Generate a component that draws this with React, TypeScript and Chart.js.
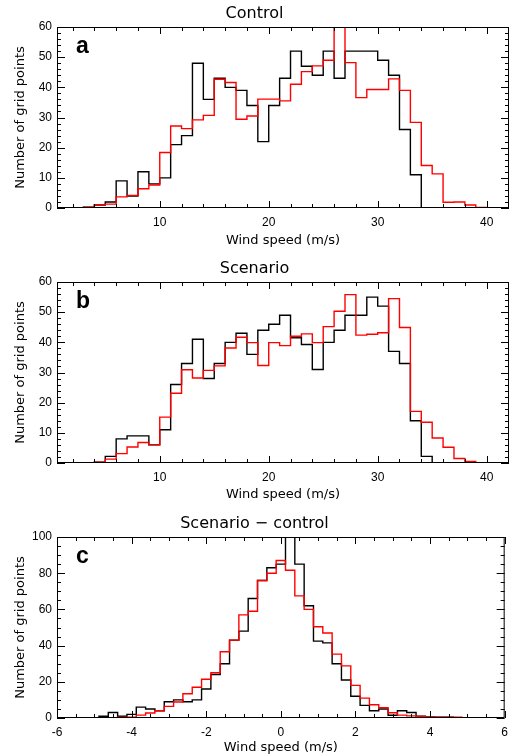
import React, { useEffect, useRef } from "react";
import { Chart, registerables } from "chart.js";

Chart.register(...registerables);

// ---------- Data ----------
// Bin edges for panels a and b (wind speed, m/s); values are per bin [edge_i, edge_i+1]
const windEdges = [
  0, 1, 2, 3, 4, 5, 6, 7, 8, 9, 10, 11, 12, 13, 14, 15, 16, 17, 18, 19, 20, 21,
  22, 23, 24, 25, 26, 27, 28, 29, 30, 31, 32, 33, 34, 35, 36, 37, 38, 39, 40, 41, 42,
];

const controlBlack = [
  0, 0, 0, 0.3, 1, 2, 9, 4, 12, 8, 10, 21, 24, 48, 36, 43, 40, 39, 34, 22, 34, 43,
  52, 47, 44, 52, 43, 52, 52, 52, 49, 44, 26, 11, 0, 0, 0, 0, 0, 0, 0, 0,
];
const controlRed = [
  0, 0, 0, 0.3, 1, 1.3, 3.7, 4.2, 6.4, 7.6, 18.4, 27.2, 26.3, 29.2, 30.7, 42.7, 41.6,
  29.4, 30.5, 36.1, 36.1, 35.5, 41, 45.2, 47.1, 49, 65, 48.2, 36.6, 39.3, 39.3, 42.8,
  39, 28.4, 14.1, 11.3, 1.9, 2, 1, 0.2, 0, 0,
];

const scenarioBlack = [
  0, 0, 0, 0, 0.3, 2.2, 8, 9, 9, 6, 11, 26, 33, 41, 28, 33, 40, 43, 36, 44, 46, 49,
  41.5, 39.3, 31, 40, 44, 49, 49, 55, 52, 37, 33, 14, 2.2, 0, 0, 0, 0, 0, 0, 0,
];
const scenarioRed = [
  0, 0, 0, 0, 0.3, 1.3, 3.1, 5.3, 6.8, 6, 15.2, 23.1, 30.9, 28.2, 30.7, 32.2, 38.1,
  41.7, 39.9, 32.3, 39.9, 38.9, 42, 42.8, 39.9, 45.2, 50.3, 55.8, 42.4, 42.7, 43.2,
  54.5, 44.9, 17.1, 13.5, 8.3, 5.2, 1.5, 0.5, 0, 0, 0,
];

// Bin edges for panel c (difference, m/s), bin width 0.25
const diffEdges = [
  -5.125, -4.875, -4.625, -4.375, -4.125, -3.875, -3.625, -3.375, -3.125, -2.875,
  -2.625, -2.375, -2.125, -1.875, -1.625, -1.375, -1.125, -0.875, -0.625, -0.375,
  -0.125, 0.125, 0.375, 0.625, 0.875, 1.125, 1.375, 1.625, 1.875, 2.125, 2.375,
  2.625, 2.875, 3.125, 3.375, 3.625, 3.875, 4.125, 4.375, 4.625, 4.875,
];
const diffBlack = [
  0, 1, 3, 1, 2, 6, 5, 4, 9, 10, 9, 10, 16, 24, 30, 43, 48, 66, 76, 83, 85, 110, 85,
  62, 42.5, 41.5, 30, 21, 12, 7, 4, 5, 1.5, 4, 3, 1, 0.6, 0.4, 0.4, 0,
];
const diffRed = [
  0, 0, 0, 0.5, 0.5, 1.6, 2.8, 4, 6.4, 8.8, 13.4, 17, 21.4, 25, 36.6, 43, 57, 59, 76,
  80, 87, 81.6, 67.5, 60, 50.4, 47, 35.3, 28.8, 18, 11, 7.3, 5.7, 2.9, 1.6, 1.2, 0.8,
  0.6, 0.5, 0.5, 0.5,
];

const windTicks = [10, 20, 30, 40];
const diffTicks = [-6, -4, -2, 0, 2, 4, 6];

// ---------- Panels ----------
type Panel = {
  title: string;
  letter: string;
  top: number;
  height: number;
  plotTop: number;
  plotBottom: number;
  xMin: number;
  xMax: number;
  xTicks: number[];
  xMinor: number;
  yMax: number;
  yStep: number;
  yMinor: number;
  edges: number[];
  black: number[];
  red: number[];
  xTitlePad: number;
};

const panels: Panel[] = [
  {
    title: "Control", letter: "a", top: 0, height: 252, plotTop: 27, plotBottom: 208,
    xMin: 0.57, xMax: 42.05, xTicks: windTicks, xMinor: 2, yMax: 60, yStep: 10, yMinor: 2,
    edges: windEdges, black: controlBlack, red: controlRed, xTitlePad: 4,
  },
  {
    title: "Scenario", letter: "b", top: 252, height: 252, plotTop: 30, plotBottom: 211,
    xMin: 0.57, xMax: 42.05, xTicks: windTicks, xMinor: 2, yMax: 60, yStep: 10, yMinor: 2,
    edges: windEdges, black: scenarioBlack, red: scenarioRed, xTitlePad: 2,
  },
  {
    title: "Scenario \u2212 control", letter: "c", top: 504, height: 252, plotTop: 33, plotBottom: 214,
    xMin: -6, xMax: 6, xTicks: diffTicks, xMinor: 0.5, yMax: 100, yStep: 20, yMinor: 5,
    edges: diffEdges, black: diffBlack, red: diffRed, xTitlePad: 0.5,
  },
];

const TITLE_FONT = 16;

const framePlugin = {
  id: "idlFrame",
  afterDatasetsDraw(chart: any, _args: any, opts: any) {
    const { ctx, chartArea } = chart;
    const { left, right, top, bottom } = chartArea;
    const xs = chart.scales.x;
    const ys = chart.scales.y;
    ctx.save();
    ctx.strokeStyle = "#000";
    ctx.lineWidth = 1;
    ctx.strokeRect(left + 0.5, top + 0.5, right - left - 1, bottom - top - 1);
    const majLen = 7;
    const minLen = 4;
    ctx.beginPath();
    // x ticks
    const xStart = Math.ceil(xs.min / opts.xMinor - 1e-9) * opts.xMinor;
    for (let v = xStart; v <= xs.max + 1e-9; v += opts.xMinor) {
      const isMajor = opts.xTicks.some((t: number) => Math.abs(t - v) < 1e-6);
      const len = isMajor ? majLen : minLen;
      const px = Math.round(xs.getPixelForValue(v)) + 0.5;
      ctx.moveTo(px, bottom);
      ctx.lineTo(px, bottom - len);
      ctx.moveTo(px, top);
      ctx.lineTo(px, top + len);
    }
    // y ticks
    for (let v = 0; v <= ys.max + 1e-9; v += opts.yMinor) {
      const isMajor = Math.abs(v / opts.yStep - Math.round(v / opts.yStep)) < 1e-6;
      const len = isMajor ? majLen + 1 : minLen;
      const py = Math.round(ys.getPixelForValue(v)) + 0.5;
      ctx.moveTo(left, py);
      ctx.lineTo(left + len, py);
      ctx.moveTo(right, py);
      ctx.lineTo(right - len, py);
    }
    ctx.stroke();
    // panel letter
    ctx.fillStyle = "#000";
    ctx.font = 'bold 23px "Liberation Sans", Arial, sans-serif';
    ctx.textBaseline = "alphabetic";
    ctx.textAlign = "left";
    ctx.fillText(opts.letter, left + 19, top + 26.3);
    ctx.restore();
  },
};

function toPoints(edges: number[], vals: number[]) {
  return edges.map((e, i) => ({ x: e, y: vals[Math.min(i, vals.length - 1)] }));
}

function PanelChart({ p }: { p: Panel }) {
  const ref = useRef<HTMLCanvasElement | null>(null);
  useEffect(() => {
    if (!ref.current) return;
    const titlePadTop = p.plotTop - 3.4 - TITLE_FONT * 1.2;
    const chart = new Chart(ref.current, {
      type: "line",
      data: {
        datasets: [
          {
            label: "red",
            data: toPoints(p.edges, p.red),
            borderColor: "#ff0000",
            borderWidth: 1.4,
            stepped: "before",
            pointRadius: 0,
            fill: false,
            order: 0,
          },
          {
            label: "black",
            data: toPoints(p.edges, p.black),
            borderColor: "#000000",
            borderWidth: 1.4,
            stepped: "before",
            pointRadius: 0,
            fill: false,
            order: 1,
          },
        ],
      },
      options: {
        animation: false,
        responsive: false,
        events: [],
        parsing: false,
        layout: { padding: { left: 0, right: 6, top: 0, bottom: 0 } },
        plugins: {
          legend: { display: false },
          tooltip: { enabled: false },
          title: {
            display: true,
            text: p.title,
            color: "#000",
            font: { family: '"DejaVu Sans", sans-serif', size: TITLE_FONT, weight: "normal" },
            padding: { top: titlePadTop, bottom: 3.4 },
          },
          idlFrame: {
            letter: p.letter,
            xTicks: p.xTicks,
            xMinor: p.xMinor,
            yStep: p.yStep,
            yMinor: p.yMinor,
          },
        } as any,
        scales: {
          x: {
            type: "linear",
            min: p.xMin,
            max: p.xMax,
            grid: { display: false, drawTicks: false },
            border: { display: false },
            afterBuildTicks: (s: any) => {
              s.ticks = p.xTicks.map((v) => ({ value: v }));
            },
            afterFit: (s: any) => {
              s.height = p.height - p.plotBottom;
            },
            ticks: {
              color: "#000",
              font: { family: '"Liberation Sans", Arial, sans-serif', size: 12 },
              padding: 7,
              maxRotation: 0,
              autoSkip: false,
            },
            title: {
              display: true,
              text: "Wind speed (m/s)",
              color: "#000",
              font: { family: '"DejaVu Sans", sans-serif', size: 13 },
              padding: { top: 0, bottom: p.xTitlePad },
            },
          },
          y: {
            type: "linear",
            min: 0,
            max: p.yMax,
            grid: { display: false, drawTicks: false },
            border: { display: false },
            afterFit: (s: any) => {
              s.width = 57;
            },
            ticks: {
              stepSize: p.yStep,
              color: "#000",
              font: { family: '"Liberation Sans", Arial, sans-serif', size: 12 },
              padding: 5,
            },
            title: {
              display: true,
              text: "Number of grid points",
              color: "#000",
              font: { family: '"DejaVu Sans", sans-serif', size: 13 },
              padding: { top: 13, bottom: 0 },
            },
          },
        },
      } as any,
      plugins: [framePlugin],
    });
    return () => chart.destroy();
  }, [p]);
  return (
    <canvas
      ref={ref}
      width={515}
      height={p.height}
      style={{ position: "absolute", left: 0, top: p.top, width: 515, height: p.height, display: "block" }}
    />
  );
}

export default function App() {
  return (
    <div style={{ position: "absolute", left: 0, top: 0, width: 515, height: 756, background: "#fff" }}>
      {panels.map((p) => (
        <PanelChart key={p.letter} p={p} />
      ))}
    </div>
  );
}
